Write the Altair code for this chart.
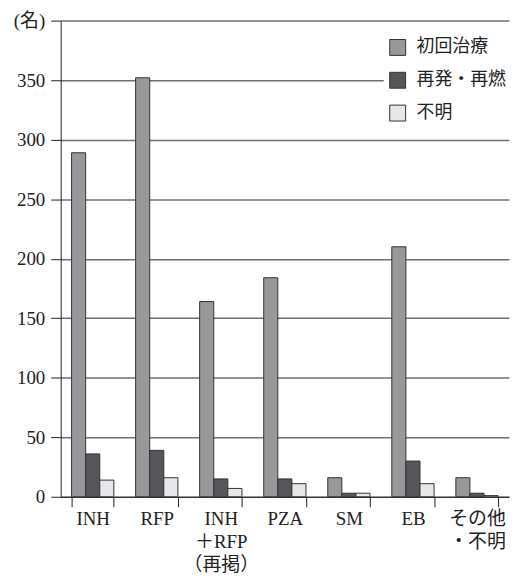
import altair as alt
import pandas as pd

categories = ["INH", "RFP", "INH|＋RFP|（再掲）", "PZA", "SM", "EB", "その他|・不明"]
series = ["初回治療", "再発・再燃", "不明"]
first_treatment = [289, 352, 164, 184, 16, 210, 16]
relapse = [36, 39, 15, 15, 3, 30, 3]
unknown = [14, 16, 7, 11, 3, 11, 1]
colors = ["#98989c", "#56565a", "#e6e7e9"]
y_ticks = [0, 50, 100, 150, 200, 250, 300, 350, 400]

rows = []
for vals, s in zip([first_treatment, relapse, unknown], series):
    for c, v in zip(categories, vals):
        rows.append({"cat": c, "series": s, "value": v})
df = pd.DataFrame(rows)

serif = "Liberation Serif, Noto Sans CJK JP"

chart = alt.Chart(df).mark_bar(stroke="#333333", strokeWidth=1).encode(
    x=alt.X("cat:N", sort=categories,
            scale=alt.Scale(paddingInner=0.34, paddingOuter=0.17),
            axis=alt.Axis(title=None, labelAngle=0, tickBand="extent",
                          labelExpr="split(datum.label, '|')",
                          labelFont=serif, labelFontSize=19, labelColor="#222",
                          labelLineHeight=23, labelPadding=3,
                          tickSize=10, tickColor="#222", domainColor="#222",
                          labelBaseline="top")),
    xOffset=alt.XOffset("series:N", sort=series, scale=alt.Scale(paddingInner=0, paddingOuter=0)),
    y=alt.Y("value:Q", scale=alt.Scale(domain=[0, 400], nice=False),
            axis=alt.Axis(title=None, values=y_ticks, grid=True, gridColor="#707070",
                          gridWidth=1.5, tickSize=10, tickColor="#222", domainColor="#222",
                          labelFont=serif, labelFontSize=19, labelColor="#222",
                          labelPadding=6,
                          labelExpr="datum.value == 400 ? '(名)' : datum.label")),
    color=alt.Color("series:N", sort=series,
                    scale=alt.Scale(domain=series, range=colors),
                    legend=alt.Legend(title=None, orient="none", legendX=325, legendY=13,
                                      fillColor="white", padding=5, symbolType="square",
                                      symbolSize=256, symbolStrokeColor="#333",
                                      symbolStrokeWidth=1, labelFont=serif,
                                      labelFontSize=18, labelColor="#222", rowPadding=13,
                                      labelOffset=10)),
).properties(width=451, height=479,
             padding={"left": 5, "top": 2, "right": 0, "bottom": 0}).configure_view(stroke=None)

chart.save("out.html", embed_options={"renderer": "svg", "actions": False})
